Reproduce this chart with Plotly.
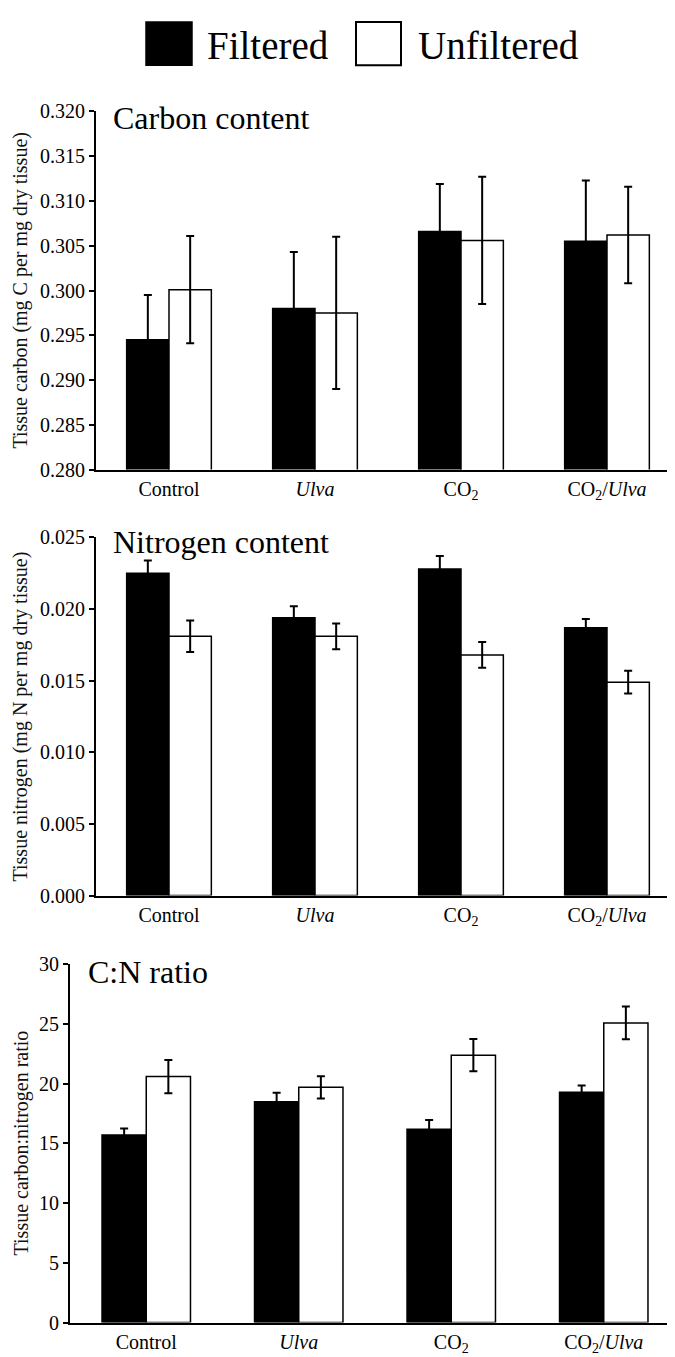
import plotly.graph_objects as go

# ---------------- data ----------------
categories = ["Control", "Ulva", "CO2", "CO2/Ulva"]
tick_labels = ["Control", "<i>Ulva</i>", "CO<sub>2</sub>", "CO<sub>2</sub>/<i>Ulva</i>"]
series_names = ["Filtered", "Unfiltered"]

carbon_filtered = [0.2945, 0.2980, 0.3066, 0.3055]
carbon_filtered_err = [0.0050, 0.0063, 0.0053, 0.0068]
carbon_unfiltered = [0.3001, 0.2975, 0.3056, 0.3062]
carbon_unfiltered_err = [0.0060, 0.0085, 0.0071, 0.0054]

nitrogen_filtered = [0.0225, 0.0194, 0.0228, 0.0187]
nitrogen_filtered_err = [0.0009, 0.0008, 0.0009, 0.0006]
nitrogen_unfiltered = [0.0181, 0.0181, 0.0168, 0.0149]
nitrogen_unfiltered_err = [0.0011, 0.0009, 0.0009, 0.0008]

cn_filtered = [15.7, 18.5, 16.2, 19.3]
cn_filtered_err = [0.55, 0.75, 0.77, 0.55]
cn_unfiltered = [20.6, 19.7, 22.4, 25.1]
cn_unfiltered_err = [1.40, 0.93, 1.36, 1.37]

panel_titles = ["Carbon content", "Nitrogen content", "C:N ratio"]
y_titles = ["Tissue carbon (mg C per mg dry tissue)",
            "Tissue nitrogen (mg N per mg dry tissue)",
            "Tissue carbon:nitrogen ratio"]
y_ranges = [[0.280, 0.320], [0.0, 0.025], [0, 30]]
y_dticks = [0.005, 0.005, 5]
y_formats = [".3f", ".3f", "d"]

# ---------------- layout helpers ----------------
W, H = 675, 1357
FONT = "Liberation Serif, Times New Roman, serif"


def px(x):
    return x / W


def py(y):
    return 1 - y / H


# panel boxes in pixels: (left, top, bottom)
panels = [(88, 94, 458), (88, 527, 891), (62, 961, 1325)]
right_edge = 672

data_sets = [
    (carbon_filtered, carbon_filtered_err, carbon_unfiltered, carbon_unfiltered_err),
    (nitrogen_filtered, nitrogen_filtered_err, nitrogen_unfiltered, nitrogen_unfiltered_err),
    (cn_filtered, cn_filtered_err, cn_unfiltered, cn_unfiltered_err),
]

fig = go.Figure()
layout_axes = {}
annotations = []

for i, (panel, ds) in enumerate(zip(panels, data_sets)):
    n = i + 1
    xa = "x" if n == 1 else f"x{n}"
    ya = "y" if n == 1 else f"y{n}"
    f_vals, f_err, u_vals, u_err = ds
    fig.add_trace(go.Bar(
        x=categories, y=f_vals, name=series_names[0], xaxis=xa, yaxis=ya,
        marker=dict(color="black", line=dict(color="black", width=1.5)),
        error_y=dict(type="data", array=f_err, color="black", thickness=2, width=4),
        showlegend=False,
    ))
    fig.add_trace(go.Bar(
        x=categories, y=u_vals, name=series_names[1], xaxis=xa, yaxis=ya,
        marker=dict(color="white", line=dict(color="black", width=1.5)),
        error_y=dict(type="data", array=u_err, color="black", thickness=2, width=4),
        showlegend=False,
    ))
    left, top, bottom = panel
    xkey = "xaxis" if n == 1 else f"xaxis{n}"
    ykey = "yaxis" if n == 1 else f"yaxis{n}"
    layout_axes[xkey] = dict(
        domain=[px(left), px(right_edge)], anchor=ya, type="category",
        tickmode="array", tickvals=categories, ticktext=tick_labels,
        showline=True, linecolor="black", linewidth=2, ticks="",
        showgrid=False, zeroline=False,
        tickfont=dict(family=FONT, size=20, color="black"),
        range=[-0.5, 3.5], fixedrange=True,
    )
    layout_axes[ykey] = dict(
        domain=[py(bottom), py(top)], anchor=xa, range=y_ranges[i],
        tick0=y_ranges[i][0], dtick=y_dticks[i], tickformat=y_formats[i],
        showline=True, linecolor="black", linewidth=2,
        ticks="outside", ticklen=5, tickwidth=1.5, tickcolor="black",
        showgrid=False, zeroline=False,
        tickfont=dict(family=FONT, size=20, color="black"),
        fixedrange=True,
    )
    # y-axis title
    annotations.append(dict(
        text=y_titles[i], xref="paper", yref="paper",
        x=px(13), y=py((top + bottom) / 2), xanchor="center", yanchor="middle",
        textangle=-90, showarrow=False,
        font=dict(family=FONT, size=20, color="#111"),
    ))

# panel titles
title_pos = [(103, 101), (103, 532), (78, 969)]
for t, (tx, ty) in zip(panel_titles, title_pos):
    annotations.append(dict(
        text=t, xref="paper", yref="paper", x=px(tx), y=py(ty),
        xanchor="left", yanchor="middle", showarrow=False,
        font=dict(family=FONT, size=32, color="black"),
    ))

# legend (drawn at the top, centered)
legend_text_pos = [(197, 27), (408, 27)]
for t, (tx, ty) in zip(series_names, legend_text_pos):
    annotations.append(dict(
        text=t, xref="paper", yref="paper", x=px(tx), y=py(ty),
        xanchor="left", yanchor="middle", showarrow=False,
        font=dict(family=FONT, size=39, color="black"),
    ))

shapes = [
    dict(type="rect", xref="paper", yref="paper",
         x0=px(138), x1=px(184), y0=py(47), y1=py(3),
         fillcolor="black", line=dict(color="black", width=1.5)),
    dict(type="rect", xref="paper", yref="paper",
         x0=px(348), x1=px(393), y0=py(47), y1=py(3),
         fillcolor="white", line=dict(color="black", width=2)),
]

fig.update_layout(
    width=W, height=H,
    margin=dict(l=0, r=0, t=0, b=0),
    paper_bgcolor="white", plot_bgcolor="white",
    barmode="group", bargap=0.42, bargroupgap=0.0,
    font=dict(family=FONT, color="black"),
    annotations=annotations, shapes=shapes,
    showlegend=False,
    **layout_axes,
)

fig.write_html("out.html")
